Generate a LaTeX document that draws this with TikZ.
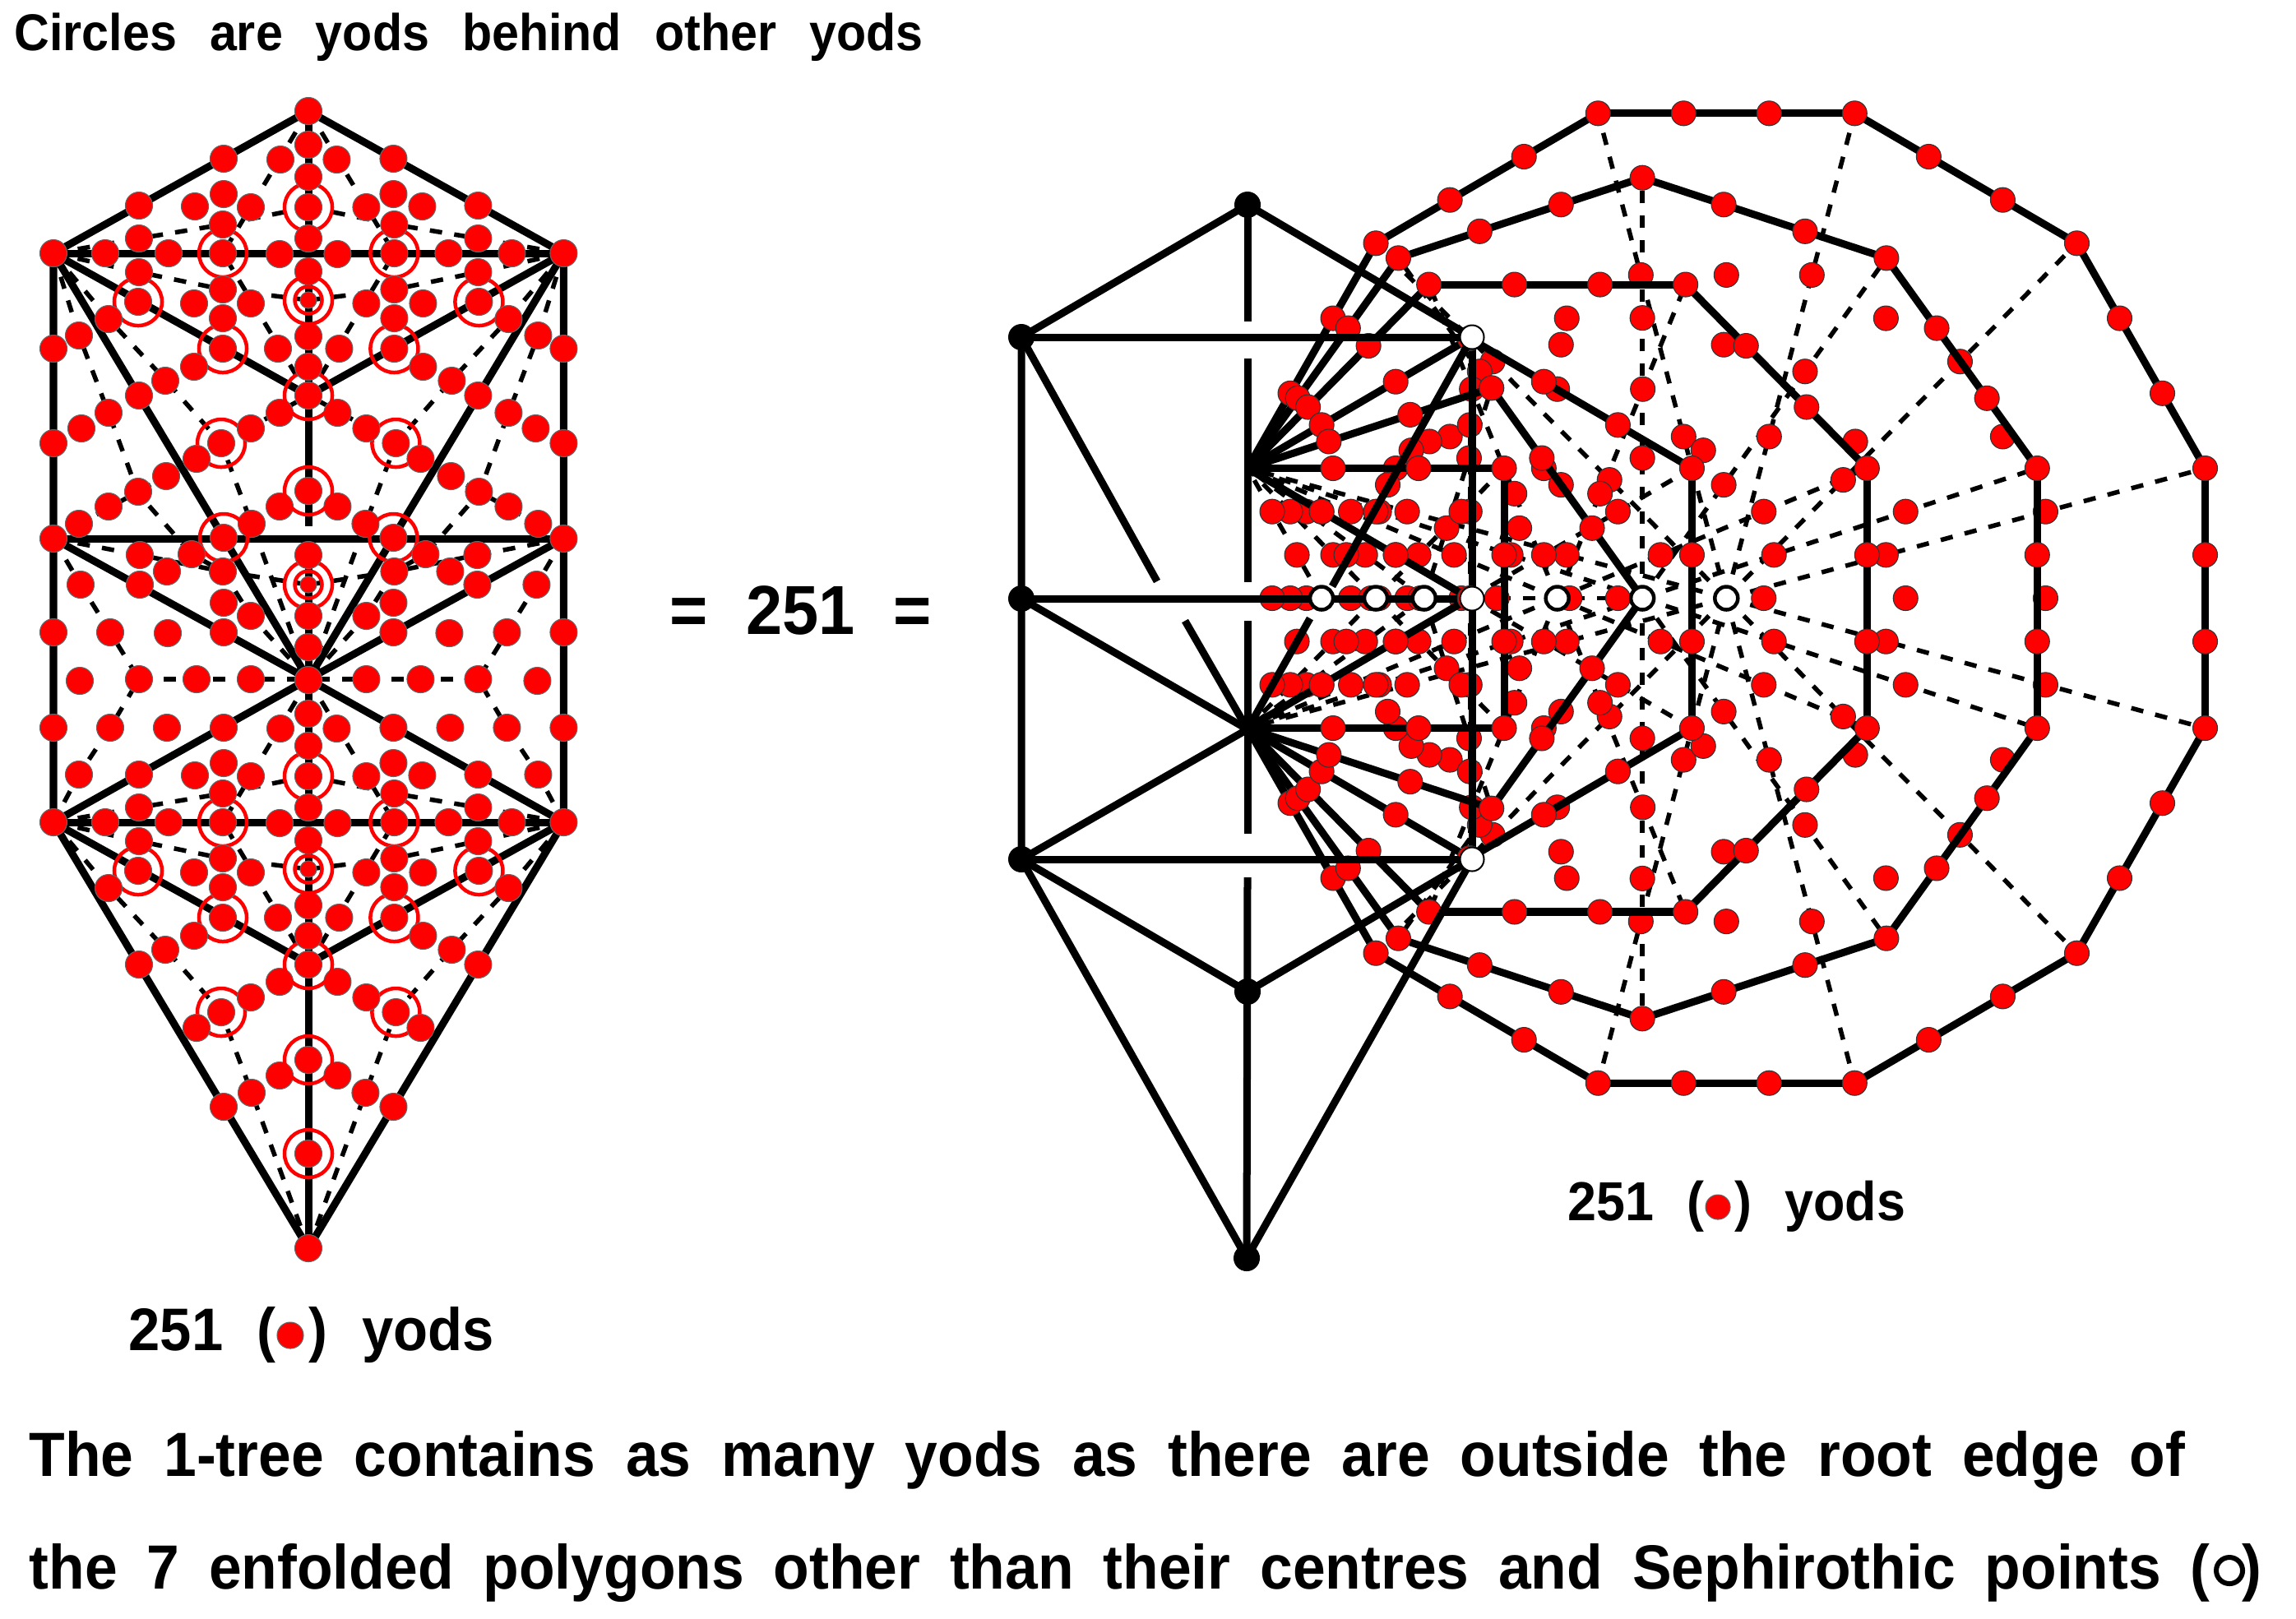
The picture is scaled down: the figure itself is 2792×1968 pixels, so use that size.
\documentclass[tikz,border=0pt]{standalone}
\usepackage{fontspec}
\setmainfont{Liberation Sans}[FakeStretch=0.94]
\usetikzlibrary{calc}
\newcommand{\spread}[2]{\makebox[#1][s]{#2}}

\begin{document}
\begin{tikzpicture}[
  x=0.01cm,y=-0.01cm,
  edge/.style={line width=0.09cm},
  dashline/.style={line width=0.055cm,dash pattern=on 0.15cm off 0.15cm},
  yod/.style={circle,fill=red,draw=black!60,line width=0.3pt,inner sep=0pt,minimum size=0.33cm},
  yodsmall/.style={yod,minimum size=0.2cm},
  polyyod/.style={yod,draw=black!80,minimum size=0.3cm},
  ring/.style={circle,draw=red,line width=0.045cm,inner sep=0pt,minimum size=0.58cm},
  ringin/.style={ring,minimum size=0.33cm},
  sephirah/.style={circle,fill=black,inner sep=0pt,minimum size=0.32cm},
  centre/.style={circle,fill=white,draw=black,line width=0.045cm,inner sep=0pt,minimum size=0.28cm},
  seph/.style={circle,fill=white,draw=black,line width=0.02cm,inner sep=0pt,minimum size=0.29cm},
  legend/.style={anchor=base west,inner sep=0pt,font=\bfseries\fontsize{20.8pt}{24pt}\selectfont},
  sentence/.style={anchor=base west,inner sep=0pt,font=\bfseries\fontsize{21.6pt}{25pt}\selectfont}
]
\useasboundingbox (0,0) rectangle (2792,1968);

\coordinate (top) at (375,135);
\coordinate (hexU) at (375,481);
\coordinate (mid) at (375,826);
\coordinate (hexD) at (375,1172);
\coordinate (bot) at (375,1518);
\foreach \sx/\sd in {1/L,-1/R} {
  \begin{scope}[xshift=3.75cm,xscale=\sx,xshift=-3.75cm]
    \coordinate (\sd a) at (65,308);
    \coordinate (\sd b) at (65,655);
    \coordinate (\sd c) at (65,1000);
    \foreach \dy in {0,692} {
      \draw[dashline] (375,135+\dy) -- (271,308+\dy) -- (375,481+\dy);
      \draw[dashline] (65,308+\dy) -- (169,290+\dy) -- (271,273+\dy) -- (375,252+\dy);
      \draw[dashline] (65,308+\dy) -- (169,331+\dy) -- (271,352+\dy) -- (375,365+\dy);
      \draw[dashline] (65,308+\dy) -- (132,388+\dy) -- (202,463+\dy) -- (269,539+\dy) -- (306,637+\dy) -- (341,732+\dy) -- (375,826+\dy);
    }
    \draw[dashline] (65,308) -- (96,408) -- (132,502) -- (168,600) -- (233,674) -- (271,695) -- (305,749) -- (375,826);
    \draw[dashline] (65,655) -- (170,675) -- (271,695) -- (375,711);
    \draw[dashline] (65,655) -- (98,711) -- (134,769) -- (169,826) -- (134,885) -- (96,942) -- (65,1000);
    \draw[dashline] (169,826) -- (375,826);
    \draw[dashline] (65,655) -- (202,579);
    \draw[dashline] (269,539) -- (375,481);
  \end{scope}
}
\foreach \sd in {L,R} {
  \draw[edge] (top) -- (\sd a) -- (\sd c) -- (bot);
  \draw[edge] (\sd a) -- (hexU);
  \draw[edge] (\sd a) -- (mid);
  \draw[edge] (\sd b) -- (mid);
  \draw[edge] (\sd c) -- (mid);
  \draw[edge] (\sd c) -- (hexD);
}
\draw[edge] (La) -- (Ra);
\draw[edge] (Lb) -- (Rb);
\draw[edge] (Lc) -- (Rc);
\coordinate (gapA) at (375,296);
\coordinate (gapB) at (375,318);
\coordinate (gapC) at (375,640);
\coordinate (gapD) at (375,661);
\coordinate (gapE) at (375,991);
\coordinate (gapF) at (375,1008);
\draw[edge] (top) -- (gapA);
\draw[edge] (gapB) -- (gapC);
\draw[edge] (gapD) -- (gapE);
\draw[edge] (gapF) -- (bot);

\foreach \sx/\sd in {1/L,-1/R} {
  \begin{scope}[xshift=3.75cm,xscale=\sx,xshift=-3.75cm]
    \foreach \dy in {0,692} {
      \foreach \x/\y [count=\i] in {271/308,168/367,271/424,269/539} {
        \node[ring] (ring\sd\dy-\i) at (\x,\y+\dy) {};
      }
      \foreach \x/\y [count=\i] in {272/193,169/250,341/194,272/236,237/251,305/252,169/290,271/273,65/308,128/308,
        205/308,271/308,340/309,169/331,271/352,168/367,236/369,305/369,271/387,132/388,271/424,338/424,236/446,
        201/463,169/481,340/502,305/521,269/539,239/558,340/616,306/637,272/654} {
        \node[yod] (yod\sd\dy-\i) at (\x,\y+\dy) {};
      }
    }
    \node[ring] (ringtail\sd) at (272,654) {};
    \foreach \x/\y [count=\i] in {96/408,65/424,132/502,99/521,65/539,202/579,168/598,132/616,96/637,65/655,
      170/675,233/674,203/695,271/695,98/711,170/711,272/733,305/749,65/769,134/769,204/770,272/769,
      97/828,169/826,239/826,305/826} {
      \node[yod] (extra\sd-\i) at (\x,\y) {};
    }
    \foreach \x/\y [count=\i] in {65/885,134/885,203/885,96/942} {
      \node[yod] (lower\sd-\i) at (\x,\y) {};
    }
  \end{scope}
}
\foreach \dy in {0,692} {
  \foreach \y in {252,481,597} {
    \node[ring] (ringc\dy-\y) at (375,\y+\dy) {};
  }
  \foreach \y in {135,176,215,252,290,330,409,446,481,597} {
    \node[yod] (yodc\dy-\y) at (375,\y+\dy) {};
  }
  \node[ring] (ringd\dy) at (375,365+\dy) {};
  \node[ringin] (ringe\dy) at (375,365+\dy) {};
  \node[yodsmall] (yods\dy) at (375,365+\dy) {};
}
\node[ring] (ringlow) at (375,711) {};
\node[ringin] (ringlowin) at (375,711) {};
\node[yodsmall] (yodlow) at (375,711) {};
\foreach \y in {675,749,787} {
  \node[yod] (yodm\y) at (375,\y) {};
}
\node[ring] (ringlast) at (375,1403) {};
\node[yod] (yodlast) at (375,1403) {};
\node[yod] (yodbot) at (bot) {};

\foreach \n in {12,10,8,6,5,4,3} {
  \pgfmathsetmacro\apo{0.5/tan(180/\n)}
  \pgfmathsetmacro\rad{0.5/sin(180/\n)}
  \pgfmathtruncatemacro\last{\n-1}
  \coordinate (c\n) at ({1517+312*\apo},727.5);
  \foreach \k in {0,...,\last} {
    \coordinate (v\n-\k) at ({1517+312*(\apo+\rad*cos(180+180/\n+\k*360/\n))},{727.5+316*\rad*sin(180+180/\n+\k*360/\n)});
  }
}
\foreach \n in {12,10,8,6,5,4,3} {
  \pgfmathtruncatemacro\last{\n-1}
  \foreach \k in {0,...,\last} {
    \draw[dashline] (c\n) -- (v\n-\k);
  }
}
\foreach \n in {12,10,8,6,5,4,3} {
  \pgfmathtruncatemacro\last{\n-1}
  \foreach \k in {0,...,\last} {
    \pgfmathtruncatemacro\kk{mod(\k+1,\n)}
    \node[polyyod] (sa\n-\k) at ($(c\n)!1/3!(v\n-\k)$) {};
    \node[polyyod] (sb\n-\k) at ($(c\n)!2/3!(v\n-\k)$) {};
    \node[polyyod] (sc\n-\k) at ($(c\n)!2/3!($(v\n-\k)!0.5!(v\n-\kk)$)$) {};
  }
}
\coordinate (sephM) at (1790,728);
\coordinate (sephT) at (1790,410);
\coordinate (sephB) at (1790,1045);
\coordinate (keterR) at (1517,249);
\coordinate (pillarL) at (1242,410);
\coordinate (pillarM) at (1242,728);
\coordinate (pillarB) at (1242,1045);
\coordinate (rootB) at (1517,887);
\coordinate (yesodR) at (1517,1206);
\coordinate (malkR) at (1516,1530);
\draw[edge] (pillarM) -- (sephM);
\draw[edge] (sephT) -- (sephB);
\foreach \n in {12,10,8,6,5,4,3} {
  \pgfmathtruncatemacro\stop{\n-2}
  \foreach \k in {0,...,\stop} {
    \pgfmathtruncatemacro\kk{\k+1}
    \draw[edge] (v\n-\k) -- (v\n-\kk);
  }
}
\foreach \n in {12,10,8,6,5,4,3} {
  \pgfmathtruncatemacro\stop{\n-2}
  \foreach \k in {0,...,\stop} {
    \pgfmathtruncatemacro\kk{\k+1}
    \node[polyyod] (ea\n-\k) at ($(v\n-\k)!1/3!(v\n-\kk)$) {};
    \node[polyyod] (eb\n-\k) at ($(v\n-\k)!2/3!(v\n-\kk)$) {};
    \ifnum\k>0
      \node[polyyod] (ev\n-\k) at (v\n-\k) {};
    \fi
  }
}
\coordinate (rootA) at (1517,391);
\coordinate (rootC) at (1517,436);
\coordinate (rootD) at (1517,708);
\coordinate (rootE) at (1517,755);
\coordinate (rootF) at (1517,1014);
\coordinate (rootG) at (1517,1067);
\coordinate (slopeA) at (1407,707);
\coordinate (slopeB) at (1441,755);
\coordinate (slopeC) at (1620,713);
\coordinate (slopeD) at (1593,752);
\draw[edge] (keterR) -- (pillarL) -- (pillarB) -- (malkR);
\draw[edge] (keterR) -- (sephT);
\draw[edge] (pillarL) -- (sephT);
\draw[edge] (pillarB) -- (sephB);
\draw[edge] (pillarB) -- (yesodR) -- (sephB);
\draw[edge] (sephB) -- (malkR);
\draw[edge] (pillarM) -- (rootB);
\draw[edge] (pillarB) -- (rootB);
\draw[edge] (pillarL) -- (slopeA);
\draw[edge] (slopeB) -- (rootB);
\draw[edge] (sephT) -- (slopeC);
\draw[edge] (slopeD) -- (rootB);
\draw[edge] (keterR) -- (rootA);
\draw[edge] (rootC) -- (rootD);
\draw[edge] (rootE) -- (rootF);
\draw[edge] (rootG) -- (malkR);
\foreach \p in {keterR,pillarL,pillarM,pillarB,yesodR,malkR} {
  \node[sephirah] (dot\p) at (\p) {};
}
\foreach \n in {3,4,5,8,10,12} {
  \node[centre] (mark\n) at (c\n) {};
}
\foreach \p in {sephT,sephM,sephB} {
  \node[seph] (dot\p) at (\p) {};
}

\node[legend,font=\bfseries\fontsize{17.9pt}{20pt}\selectfont] (title) at (17,61) {\spread{11.04cm}{Circles are yods behind other yods}};
\node[legend,font=\bfseries\fontsize{24pt}{28pt}\selectfont] (total) at (814,771) {\spread{3.18cm}{= 251 =}};
\node[legend] (countL) at (156,1642) {\spread{4.44cm}{251 (\hspace{0.4cm}) yods}};
\node[yod,minimum size=0.32cm] (keyL) at (353,1624) {};
\node[legend,font=\bfseries\fontsize{19pt}{22pt}\selectfont] (countR) at (1906,1484) {\spread{4.1cm}{251 (\hspace{0.37cm}) yods}};
\node[yod,minimum size=0.3cm] (keyR) at (2089,1468) {};
\node[sentence] (lineA) at (35,1795) {\spread{26.2cm}{The 1-tree contains as many yods as there are outside the root edge of}};
\node[sentence] (lineB) at (35,1932) {\spread{27.13cm}{the 7 enfolded polygons other than their centres and Sephirothic points (\hspace{0.39cm})}};
\node[centre,minimum size=0.32cm,line width=0.06cm] (keyW) at (2711,1910) {};
\end{tikzpicture}
\end{document}
